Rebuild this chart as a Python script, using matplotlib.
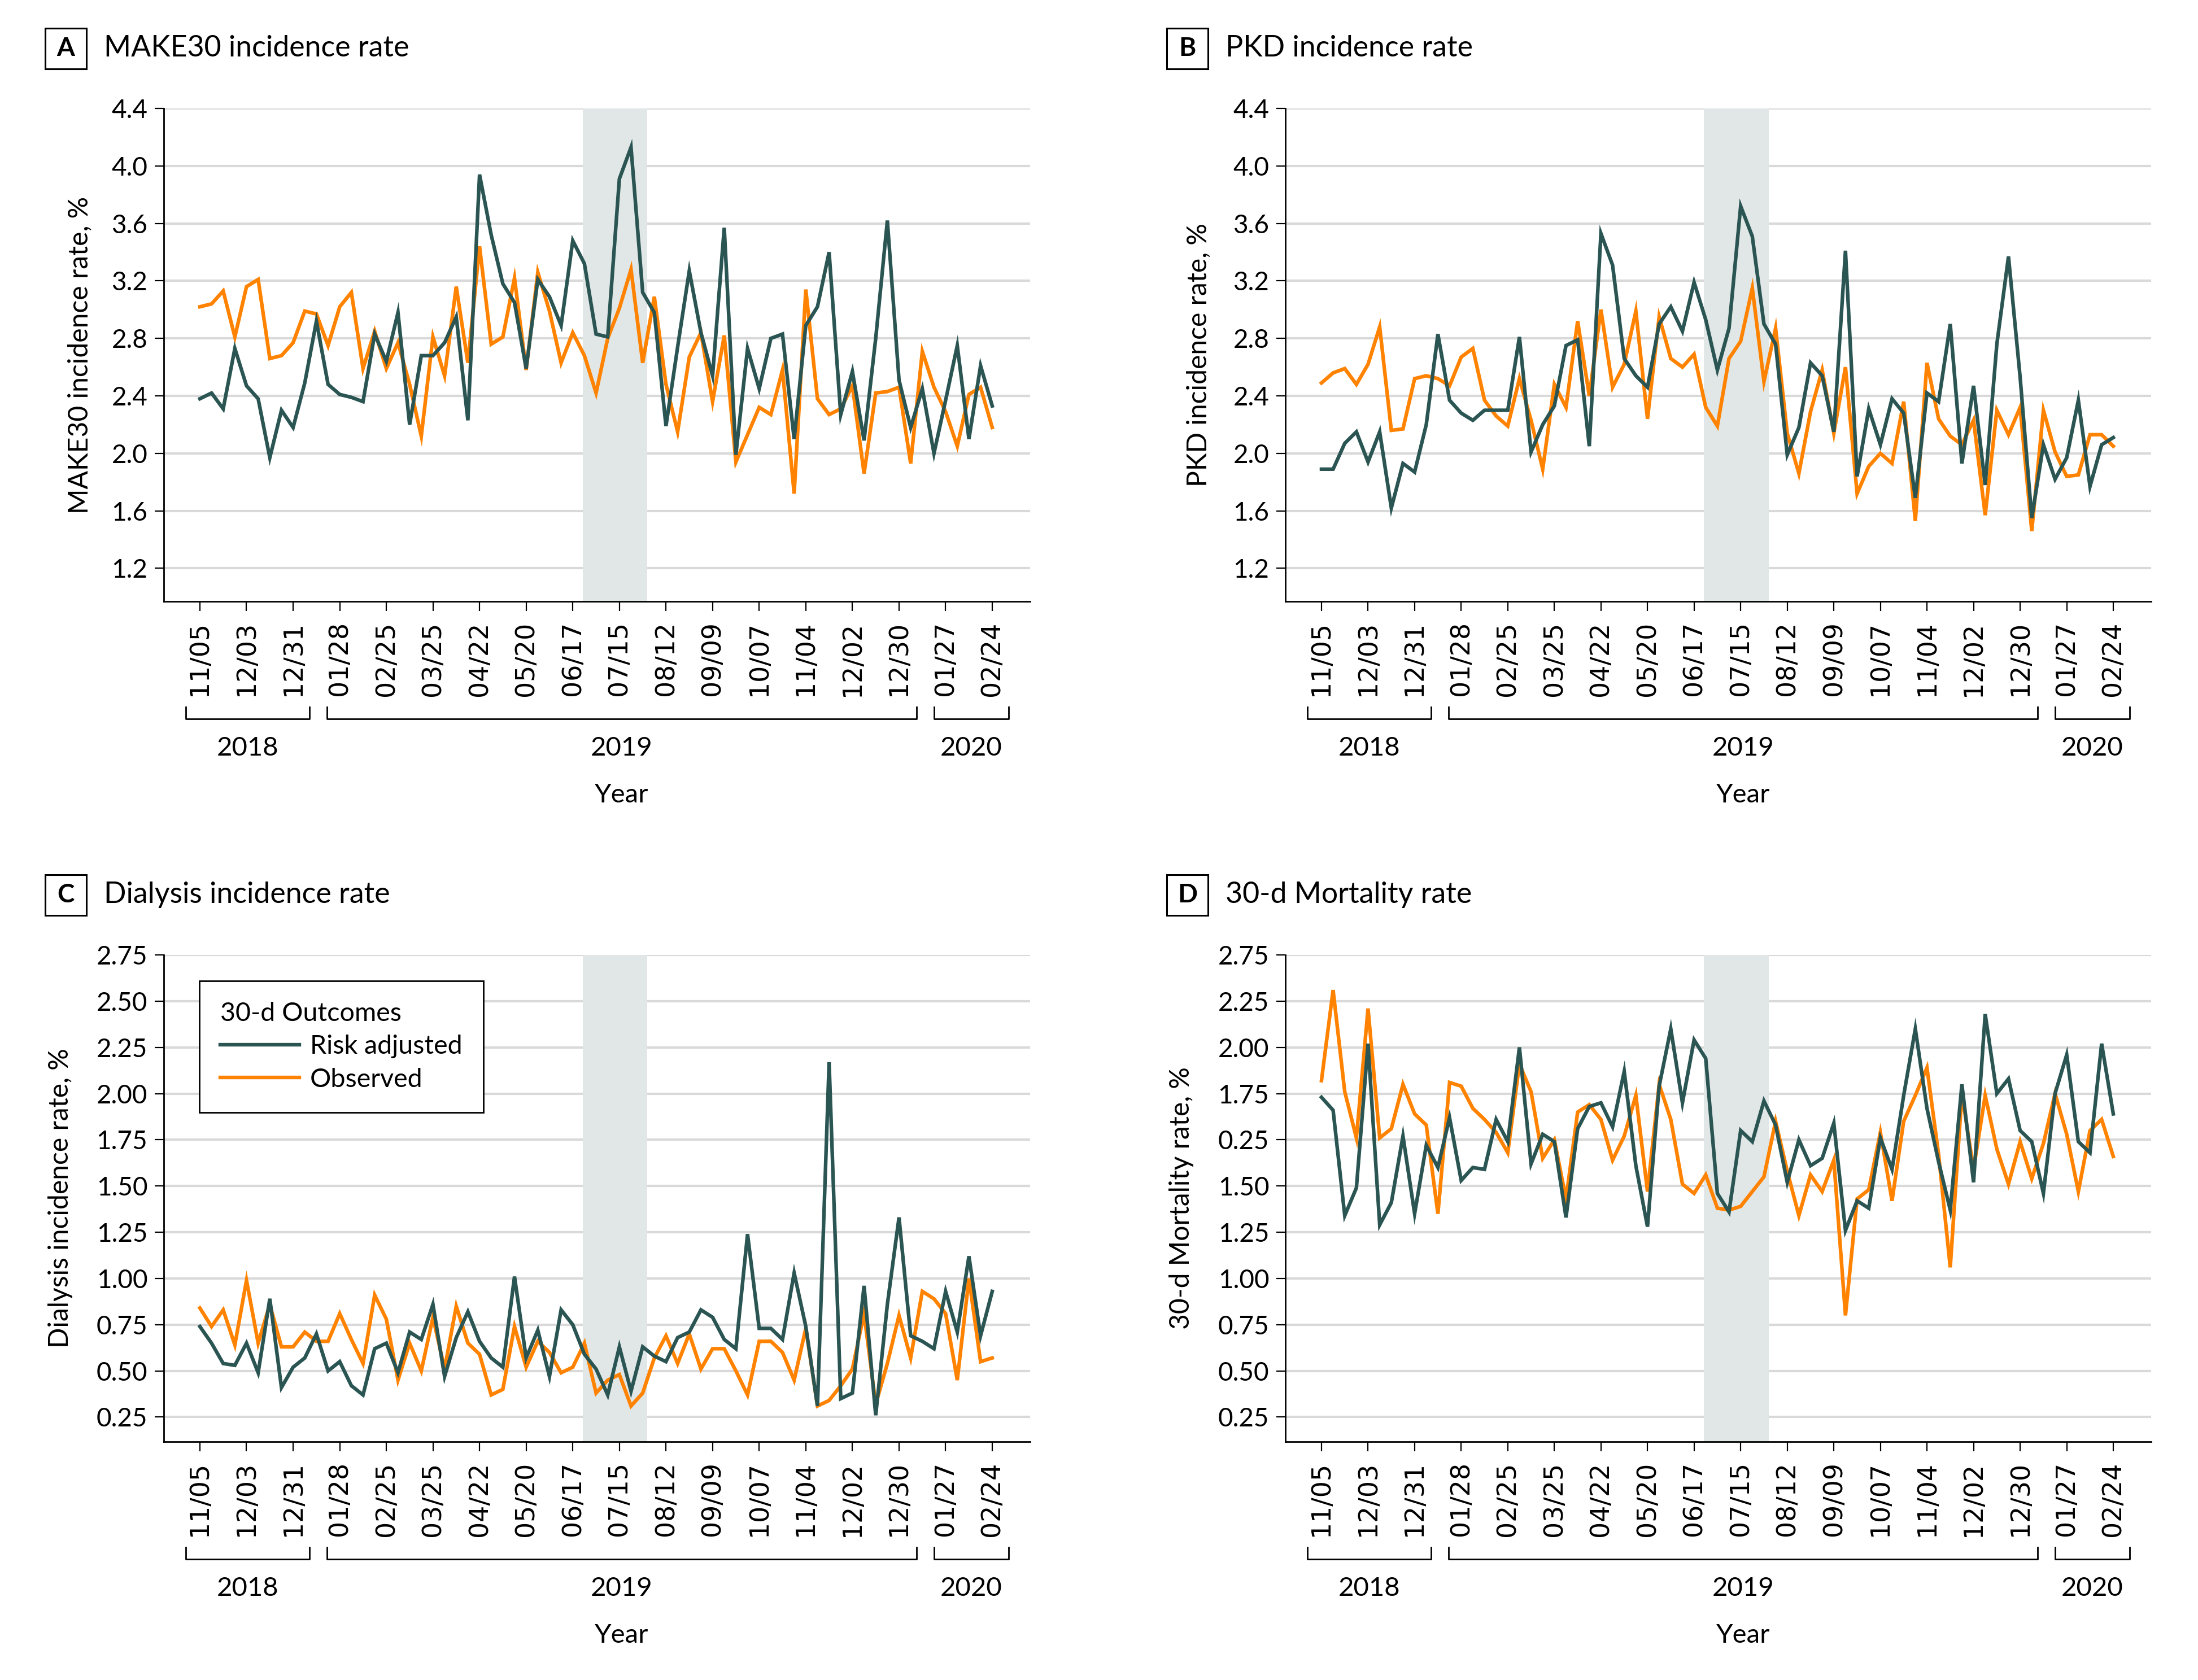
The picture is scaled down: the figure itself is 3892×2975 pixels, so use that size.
import matplotlib

matplotlib.use("Agg")

import matplotlib.pyplot as plt
from matplotlib.patches import Rectangle
from matplotlib.transforms import blended_transform_factory


W, H, DPI = 3892, 2975, 200
DARK = "#2a5553"
ORANGE = "#ff8200"
SHADE_COLOR = "#e1e7e6"
GRID_COLOR = "#d9d9d9"

# weekly series, 11/05/2018 .. 02/24/2020 (week index 0..68)
tick_dates = ["11/05", "12/03", "12/31", "01/28", "02/25", "03/25", "04/22", "05/20", "06/17",
              "07/15", "08/12", "09/09", "10/07", "11/04", "12/02", "12/30", "01/27", "02/24"]
years = ["2018", "2019", "2020"]
year_spans = [(-1.2, 9.4), (10.9, 61.5), (63.0, 69.4)]
shade_weeks = (32.85, 38.4)

make30_adjusted = [2.38, 2.42, 2.31, 2.73, 2.47, 2.38, 1.97, 2.30, 2.18, 2.49, 2.92, 2.48, 2.41, 2.39,
                   2.36, 2.83, 2.64, 2.98, 2.20, 2.68, 2.68, 2.77, 2.95, 2.23, 3.94, 3.52, 3.18, 3.05,
                   2.59, 3.21, 3.09, 2.89, 3.48, 3.32, 2.83, 2.81, 3.91, 4.13, 3.12, 2.98, 2.19, 2.74,
                   3.27, 2.84, 2.54, 3.57, 1.99, 2.73, 2.45, 2.80, 2.83, 2.10, 2.89, 3.02, 3.40, 2.27,
                   2.57, 2.09, 2.80, 3.62, 2.51, 2.18, 2.45, 2.00, 2.37, 2.75, 2.10, 2.61, 2.33]
make30_observed = [3.02, 3.04, 3.13, 2.81, 3.16, 3.21, 2.66, 2.68, 2.77, 2.99, 2.97, 2.75, 3.02, 3.12,
                   2.59, 2.85, 2.59, 2.77, 2.48, 2.12, 2.81, 2.54, 3.16, 2.63, 3.44, 2.76, 2.81, 3.22,
                   2.58, 3.26, 2.99, 2.63, 2.84, 2.68, 2.42, 2.80, 3.01, 3.28, 2.63, 3.09, 2.48, 2.15,
                   2.67, 2.84, 2.36, 2.82, 1.94, 2.13, 2.32, 2.27, 2.58, 1.72, 3.14, 2.38, 2.27, 2.31,
                   2.47, 1.86, 2.42, 2.43, 2.46, 1.93, 2.71, 2.46, 2.29, 2.05, 2.41, 2.46, 2.18]

pkd_adjusted = [1.89, 1.89, 2.07, 2.15, 1.94, 2.15, 1.62, 1.93, 1.87, 2.20, 2.83, 2.37, 2.28, 2.23,
                2.30, 2.30, 2.30, 2.81, 2.01, 2.20, 2.33, 2.75, 2.79, 2.05, 3.53, 3.31, 2.66, 2.54,
                2.46, 2.90, 3.02, 2.85, 3.19, 2.93, 2.58, 2.87, 3.72, 3.51, 2.90, 2.76, 1.99, 2.18,
                2.63, 2.54, 2.15, 3.41, 1.84, 2.31, 2.06, 2.38, 2.28, 1.69, 2.42, 2.36, 2.90, 1.93,
                2.47, 1.78, 2.76, 3.37, 2.53, 1.55, 2.06, 1.82, 1.97, 2.37, 1.77, 2.06, 2.11]
pkd_observed = [2.49, 2.56, 2.59, 2.48, 2.62, 2.88, 2.16, 2.17, 2.52, 2.54, 2.52, 2.47, 2.67, 2.73,
                2.37, 2.26, 2.19, 2.52, 2.23, 1.89, 2.48, 2.32, 2.92, 2.40, 3.00, 2.46, 2.62, 2.99,
                2.24, 2.95, 2.66, 2.60, 2.69, 2.32, 2.19, 2.66, 2.78, 3.15, 2.50, 2.87, 2.14, 1.86,
                2.29, 2.58, 2.14, 2.60, 1.72, 1.91, 2.00, 1.93, 2.36, 1.53, 2.63, 2.24, 2.12, 2.06,
                2.23, 1.57, 2.30, 2.13, 2.32, 1.46, 2.30, 2.01, 1.84, 1.85, 2.13, 2.13, 2.05]

dialysis_adjusted = [0.74, 0.65, 0.54, 0.53, 0.65, 0.49, 0.89, 0.41, 0.52, 0.57, 0.70, 0.50, 0.55, 0.42,
                     0.37, 0.62, 0.65, 0.49, 0.71, 0.67, 0.86, 0.47, 0.68, 0.82, 0.66, 0.57, 0.52, 1.01,
                     0.57, 0.72, 0.47, 0.83, 0.75, 0.59, 0.51, 0.37, 0.63, 0.39, 0.63, 0.58, 0.55, 0.68,
                     0.71, 0.83, 0.79, 0.67, 0.62, 1.24, 0.73, 0.73, 0.67, 1.03, 0.74, 0.31, 2.17, 0.35,
                     0.38, 0.96, 0.26, 0.86, 1.33, 0.69, 0.66, 0.62, 0.93, 0.71, 1.12, 0.69, 0.93]
dialysis_observed = [0.84, 0.74, 0.83, 0.64, 0.99, 0.65, 0.86, 0.63, 0.63, 0.71, 0.66, 0.66, 0.81, 0.67,
                     0.54, 0.91, 0.78, 0.45, 0.65, 0.50, 0.79, 0.51, 0.85, 0.65, 0.59, 0.37, 0.40, 0.74,
                     0.52, 0.66, 0.60, 0.49, 0.52, 0.65, 0.38, 0.45, 0.48, 0.31, 0.38, 0.57, 0.69, 0.54,
                     0.70, 0.51, 0.62, 0.62, 0.50, 0.37, 0.66, 0.66, 0.60, 0.45, 0.73, 0.31, 0.34, 0.42,
                     0.51, 0.81, 0.32, 0.54, 0.80, 0.57, 0.93, 0.89, 0.81, 0.45, 1.00, 0.55, 0.57]

mortality_adjusted = [1.98, 1.91, 1.34, 1.49, 2.27, 1.29, 1.41, 1.77, 1.35, 1.72, 1.60, 1.87, 1.53, 1.60,
                      1.59, 1.86, 1.74, 2.25, 1.62, 1.78, 1.74, 1.33, 1.81, 1.93, 1.95, 1.82, 2.12, 1.61,
                      1.28, 2.04, 2.35, 1.95, 2.29, 2.19, 1.46, 1.36, 1.80, 1.74, 1.96, 1.83, 1.52, 1.75,
                      1.61, 1.65, 1.84, 1.26, 1.42, 1.38, 1.76, 1.59, 1.99, 2.35, 1.92, 1.63, 1.37, 2.05,
                      1.52, 2.43, 2.00, 2.08, 1.80, 1.74, 1.46, 2.00, 2.21, 1.74, 1.68, 2.27, 1.89]
mortality_observed = [2.07, 2.56, 2.01, 1.76, 2.46, 1.76, 1.81, 2.05, 1.89, 1.83, 1.35, 2.06, 2.04, 1.92,
                      1.86, 1.79, 1.68, 2.16, 2.01, 1.65, 1.75, 1.43, 1.90, 1.94, 1.86, 1.64, 1.77, 1.99,
                      1.47, 2.05, 1.86, 1.51, 1.46, 1.56, 1.38, 1.37, 1.39, 1.47, 1.55, 1.85, 1.58, 1.34,
                      1.56, 1.47, 1.64, 0.80, 1.43, 1.48, 1.79, 1.42, 1.85, 1.99, 2.14, 1.67, 1.06, 2.00,
                      1.59, 1.99, 1.70, 1.51, 1.74, 1.54, 1.73, 2.00, 1.78, 1.47, 1.80, 1.86, 1.66]

rate_ticks = [1.2, 1.6, 2.0, 2.4, 2.8, 3.2, 3.6, 4.0, 4.4]
rate_labels = ["1.2", "1.6", "2.0", "2.4", "2.8", "3.2", "3.6", "4.0", "4.4"]
small_ticks = [0.25, 0.50, 0.75, 1.00, 1.25, 1.50, 1.75, 2.00, 2.25, 2.50, 2.75]
dialysis_labels = ["0.25", "0.50", "0.75", "1.00", "1.25", "1.50", "1.75", "2.00", "2.25", "2.50", "2.75"]
mortality_labels = ["0.25", "0.50", "0.75", "1.00", "1.25", "1.50", "0.25", "1.75", "2.00", "2.25", "2.75"]

plt.rcParams["font.family"] = ["Lato", "DejaVu Sans"]
FS = 16.5


def fig_x(px):
    return px / W


def fig_y(px):
    return 1 - px / H


def draw_panel(fig, rect, letter, title, ylabel, ylabel_x, adjusted, observed,
               yticks, ylabels, ylim, legend=False):
    left, top, right, bottom = rect
    ax = fig.add_axes([fig_x(left), fig_y(bottom), (right - left) / W, (bottom - top) / H])
    weeks = list(range(len(adjusted)))

    for y in yticks:
        ax.axhline(y, color=GRID_COLOR, lw=1.5, zorder=0)
    ax.axvspan(*shade_weeks, color=SHADE_COLOR, lw=0, zorder=1)
    ax.plot(weeks, adjusted, color=DARK, lw=2.3, zorder=3, label="Risk adjusted",
            solid_joinstyle="miter")
    ax.plot(weeks, observed, color=ORANGE, lw=2.3, zorder=2, label="Observed",
            solid_joinstyle="miter")

    ax.set_xlim(-3.1, 71.25)
    ax.set_ylim(*ylim)
    ax.set_yticks(yticks)
    ax.set_yticklabels(ylabels, fontsize=FS)
    ax.set_xticks(range(0, 69, 4))
    ax.set_xticklabels(tick_dates, rotation=90, fontsize=FS, fontfamily="DejaVu Sans")
    ax.tick_params(axis="y", length=5.8, width=0.8, pad=4.5)
    ax.tick_params(axis="x", length=6.2, width=0.8, pad=6.5)
    for side in ("top", "right"):
        ax.spines[side].set_visible(False)
    for side in ("left", "bottom"):
        ax.spines[side].set_linewidth(1.0)

    # year brackets under the date labels
    tr = blended_transform_factory(ax.transData, fig.transFigure)
    for name, (x0, x1) in zip(years, year_spans):
        ax.plot([x0, x0, x1, x1], [fig_y(bottom + 187), fig_y(bottom + 208),
                                   fig_y(bottom + 208), fig_y(bottom + 187)],
                color="black", lw=1.0, transform=tr, clip_on=False)
        ax.text((x0 + x1) / 2, fig_y(bottom + 260), name, transform=tr, ha="center",
                va="center", fontsize=FS + 0.5)
    ax.text(36.2, fig_y(bottom + 343), "Year", transform=tr, ha="center", va="center",
            fontsize=FS + 0.5)

    fig.text(fig_x(ylabel_x), fig_y((top + bottom) / 2), ylabel, rotation=90,
             ha="center", va="center", fontsize=FS + 0.8)

    # panel letter box and title
    bx0, by0 = left - 210, top - 142
    fig.add_artist(Rectangle((fig_x(bx0), fig_y(by0 + 72)), 73 / W, 72 / H,
                             transform=fig.transFigure, fill=False, lw=1.1, color="black"))
    fig.text(fig_x(bx0 + 36.5), fig_y(by0 + 36), letter, ha="center", va="center",
             fontsize=FS, fontweight="bold")
    fig.text(fig_x(bx0 + 104), fig_y(by0 + 36), title, ha="left", va="center",
             fontsize=18.7)

    if legend:
        leg = ax.legend(loc="upper left", bbox_to_anchor=(0.041, 0.947), title="30-d Outcomes",
                        fontsize=FS + 0.3, title_fontsize=FS + 0.3, frameon=True, fancybox=False,
                        edgecolor="black", framealpha=1, handlelength=3.0, handletextpad=0.4,
                        borderpad=0.8, labelspacing=0.35, alignment="left", borderaxespad=0)
        leg.get_frame().set_linewidth(1.0)
        for line in leg.get_lines():
            line.set_linewidth(2.3)
    return ax


fig = plt.figure(figsize=(W / DPI, H / DPI), dpi=DPI)
fig.patch.set_facecolor("white")

draw_panel(fig, (290, 192, 1824, 1065), "A", "MAKE30 incidence rate", "MAKE30 incidence rate, %", 141,
           make30_adjusted, make30_observed, rate_ticks, rate_labels, (0.97, 4.4))
draw_panel(fig, (2276, 192, 3809, 1065), "B", "PKD incidence rate", "PKD incidence rate, %", 2122,
           pkd_adjusted, pkd_observed, rate_ticks, rate_labels, (0.97, 4.4))
draw_panel(fig, (290, 1691, 1824, 2553), "C", "Dialysis incidence rate", "Dialysis incidence rate, %", 107,
           dialysis_adjusted, dialysis_observed, small_ticks, dialysis_labels, (0.117, 2.75), legend=True)
draw_panel(fig, (2276, 1691, 3809, 2553), "D", "30-d Mortality rate", "30-d Mortality rate, %", 2092,
           mortality_adjusted, mortality_observed, small_ticks, mortality_labels, (0.117, 2.75))

fig.savefig("out.png", dpi=DPI, facecolor="white")
